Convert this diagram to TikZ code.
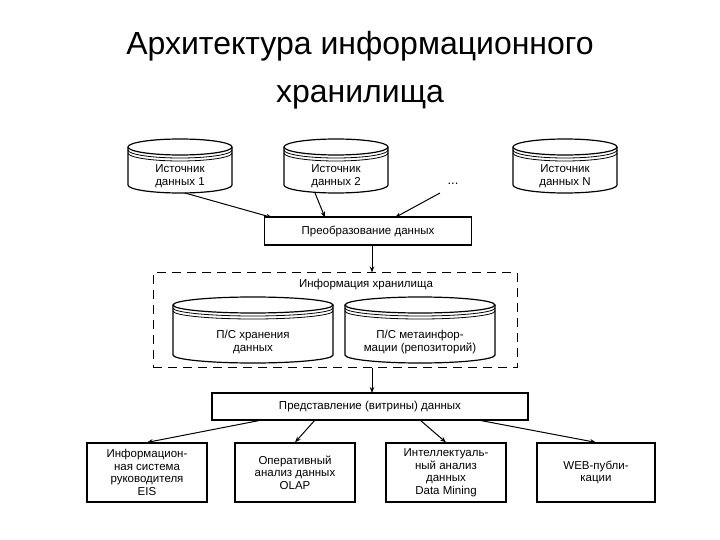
\documentclass[tikz,border=0pt]{standalone}
\usepackage{fontspec}
\setmainfont{Liberation Sans}
\usetikzlibrary{arrows.meta}
\newcommand\mycyl[5]{% cx, top, halfwidth, height, name
  \fill[white] (#1-#3,#2) -- (#1-#3,#2+#4) arc[start angle=180,end angle=0,x radius=#3,y radius=8] -- (#1+#3,#2) -- cycle;
  \draw[line width=1.2pt] (#1-#3,#2) -- (#1-#3,#2+#4) arc[start angle=180,end angle=0,x radius=#3,y radius=8] -- (#1+#3,#2);
  \draw[line width=1.2pt,fill=white] (#1,#2) ellipse[x radius=#3,y radius=8];
  \draw[line width=0.8pt] (#1-#3,#2+3) arc[start angle=180,end angle=0,x radius=#3,y radius=8];
  \draw[line width=0.8pt] (#1-#3,#2+6) arc[start angle=180,end angle=0,x radius=#3,y radius=8];
  \coordinate (#5) at (#1,#2);
}
\begin{document}
\begin{tikzpicture}[x=1pt,y=-1pt,
  box/.style={draw,line width=1.2pt,fill=white,font=\fontsize{11.5}{12.5}\selectfont,align=center,inner sep=0pt},
  lbl/.style={font=\fontsize{11.5}{12.5}\selectfont,align=center},
  arr/.style={line width=1pt,-{Stealth[length=6pt,width=4.5pt]}}]
\useasboundingbox (0,0) rectangle (720,540);
\node[font=\fontsize{32}{34}\selectfont] (t1) at (360,46) {Архитектура информационного};
\node[font=\fontsize{32}{34}\selectfont] (t2) at (360,97) {хранилища};
% sources
\mycyl{180}{147}{52}{38}{c1}
\mycyl{336}{147}{52}{38}{c2}
\mycyl{565}{147}{52}{38}{c3}
\node[lbl] (s1) at (180,176) {Источник\\данных 1};
\node[lbl] (s2) at (336,176) {Источник\\данных 2};
\node[lbl] (s3) at (565,176) {Источник\\данных N};
\node[font=\fontsize{13}{13}\selectfont] (dots) at (453,184) {...};
\draw[arr] (185,193) -- (272,217.5);
\draw[arr] (315,193) -- (325,217.5);
\draw[arr] (440,193) -- (395,217.5);
\node[box,minimum width=207pt,minimum height=28pt] (pr) at (368,231) {Преобразование данных};
% storage
\node[draw,dash pattern=on 9pt off 6pt,line width=1pt,minimum width=364pt,minimum height=95pt,inner sep=0pt] (st) at (335,320) {};
\draw[arr] (372,245) -- (372,272.5);
\node[lbl] (stl) at (366,285) {Информация хранилища};
\mycyl{253}{305}{80}{50}{c4}
\mycyl{420}{305}{75}{50}{c5}
\node[lbl] (s4) at (253,342) {П/С хранения\\данных};
\node[lbl] (s5) at (420,342) {П/С метаинфор-\\мации (репозиторий)};
% presentation
\draw[arr] (372,367.5) -- (372,393);
\node[box,minimum width=316pt,minimum height=27pt] (pv) at (370,406.5) {Представление (витрины) данных};
\node[box,minimum width=120pt,minimum height=59pt] (b1) at (147,472.5) {Информацион-\\ная система\\руководителя\\EIS};
\node[box,minimum width=120pt,minimum height=59pt] (b2) at (295,472.5) {Оперативный\\анализ данных\\OLAP};
\node[box,minimum width=120pt,minimum height=59pt] (b3) at (446,472.5) {Интеллектуаль-\\ный анализ\\данных\\Data Mining};
\node[box,minimum width=118pt,minimum height=59pt] (b4) at (596,472.5) {WEB-публи-\\кации};
\draw[arr] (262,420) -- (b1.north);
\draw[arr] (315,420) -- (b2.north);
\draw[arr] (420,420) -- (b3.north);
\draw[arr] (478,420) -- (b4.north);
\end{tikzpicture}
\end{document}
